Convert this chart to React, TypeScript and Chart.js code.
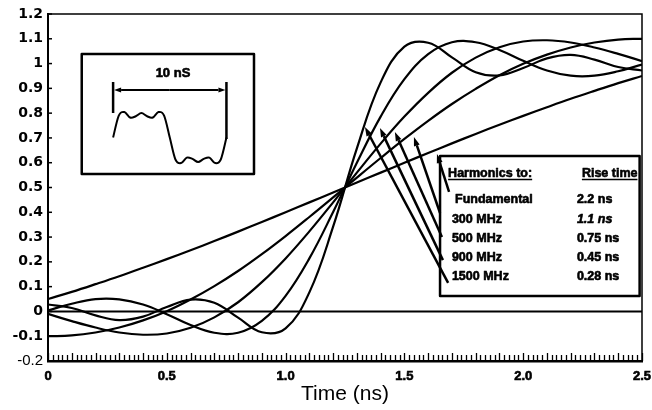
import React, { useEffect, useRef } from 'react';
import { Chart, registerables } from 'chart.js';

Chart.register(...registerables);

// ---- data ----
const TIME_NS = [0, 0.1, 0.2, 0.3, 0.4, 0.5, 0.6, 0.7, 0.8, 0.9, 1.0, 1.1, 1.2, 1.3, 1.4, 1.5, 1.6, 1.7, 1.8, 1.9, 2.0, 2.1, 2.2, 2.3, 2.4, 2.5];

const FUNDAMENTAL = [0.050, 0.079, 0.110, 0.142, 0.176, 0.211, 0.247, 0.284, 0.322, 0.361, 0.400, 0.440, 0.480, 0.520, 0.560, 0.600, 0.639, 0.678, 0.716, 0.753, 0.789, 0.824, 0.858, 0.890, 0.921, 0.950];
const MHZ_300 = [-0.100, -0.097, -0.085, -0.065, -0.036, 0.001, 0.048, 0.102, 0.163, 0.231, 0.304, 0.381, 0.460, 0.540, 0.619, 0.696, 0.769, 0.837, 0.898, 0.953, 0.999, 1.036, 1.065, 1.085, 1.097, 1.100];
const MHZ_500 = [-0.010, -0.039, -0.065, -0.085, -0.094, -0.089, -0.066, -0.024, 0.037, 0.118, 0.214, 0.323, 0.440, 0.560, 0.677, 0.786, 0.882, 0.963, 1.024, 1.066, 1.089, 1.094, 1.085, 1.065, 1.039, 1.010];
const MHZ_900 = [0.004, 0.031, 0.050, 0.049, 0.028, -0.011, -0.055, -0.086, -0.086, -0.038, 0.063, 0.214, 0.401, 0.600, 0.786, 0.937, 1.038, 1.086, 1.086, 1.055, 1.011, 0.972, 0.951, 0.951, 0.969, 0.996];
const MHZ_1500 = [0.028, 0.014, -0.016, -0.035, -0.021, 0.018, 0.048, 0.035, -0.025, -0.084, -0.068, 0.077, 0.342, 0.658, 0.924, 1.068, 1.084, 1.025, 0.965, 0.952, 0.982, 1.021, 1.035, 1.016, 0.986, 0.972];

const SERIES = [FUNDAMENTAL, MHZ_300, MHZ_500, MHZ_900, MHZ_1500];

const TABLE_HARMONICS = ['Fundamental', '300 MHz', '500 MHz', '900 MHz', '1500 MHz'];
const TABLE_RISE_TIME = ['2.2 ns', '1.1 ns', '0.75 ns', '0.45 ns', '0.28 ns'];

// arrows: from table rows to the curves (time ns, level)
const ARROW_TIP_T = [1.637, 1.540, 1.460, 1.397, 1.334];
const ARROW_TIP_V = [0.635, 0.704, 0.724, 0.740, 0.744];
const ARROW_TAIL_T = [1.688, 1.650, 1.658, 1.662, 1.684];
const ARROW_TAIL_V = [0.482, 0.397, 0.300, 0.207, 0.115];

// inset: one 10 ns period of the 500 MHz waveform
const INSET_TIME = [0, 0.5, 1, 1.5, 2, 2.5, 3, 3.5, 4, 4.5, 5, 5.5, 6, 6.5, 7, 7.5, 8, 8.5, 9, 9.5, 10];
const INSET_LEVEL = [0.5, 0.996, 1.076, 0.953, 0.981, 1.052, 0.981, 0.953, 1.076, 0.996, 0.5, 0.004, -0.076, 0.047, 0.019, -0.052, 0.019, 0.047, -0.076, 0.004, 0.5];

const X_TICK_STEP = 0.5;
const Y_TICK_STEP = 0.1;

const WIDE_FONT = '"DejaVu Sans", sans-serif';
const TEXT_FONT = '"Liberation Sans", Arial, sans-serif';

function drawArrow(ctx, x1, y1, x2, y2, len, half, width) {
  const a = Math.atan2(y2 - y1, x2 - x1);
  const bx = x2 - Math.cos(a) * len;
  const by = y2 - Math.sin(a) * len;
  ctx.lineWidth = width;
  ctx.beginPath();
  ctx.moveTo(x1, y1);
  ctx.lineTo(bx, by);
  ctx.stroke();
  ctx.beginPath();
  ctx.moveTo(x2, y2);
  ctx.lineTo(bx + Math.sin(a) * half, by - Math.cos(a) * half);
  ctx.lineTo(bx - Math.sin(a) * half, by + Math.cos(a) * half);
  ctx.closePath();
  ctx.fill();
}

function heavyText(ctx, text, x, y) {
  ctx.fillText(text, x, y);
  ctx.lineWidth = 0.6;
  ctx.strokeText(text, x, y);
}

const framePlugin = {
  id: 'frame',
  beforeDatasetsDraw(chart) {
    const { ctx, chartArea: ca, scales } = chart;
    const x = scales.x;
    const y = scales.y;
    ctx.save();
    ctx.strokeStyle = '#000';
    ctx.lineWidth = 1.5;
    ctx.beginPath();
    ctx.moveTo(ca.left, ca.top);
    ctx.lineTo(ca.right, ca.top);
    ctx.lineTo(ca.right, ca.bottom);
    ctx.stroke();
    // zero line
    ctx.lineWidth = 2;
    ctx.beginPath();
    ctx.moveTo(ca.left, y.getPixelForValue(0));
    ctx.lineTo(ca.right, y.getPixelForValue(0));
    ctx.stroke();
    // ruler ticks on bottom axis
    ctx.lineWidth = 1.3;
    for (let i = 0; i <= 125; i++) {
      const px = Math.round(x.getPixelForValue(i * 0.02)) + 0.5;
      const l = i % 5 === 0 ? 8 : 6;
      ctx.beginPath();
      ctx.moveTo(px, ca.bottom);
      ctx.lineTo(px, ca.bottom - l);
      ctx.stroke();
    }
    // inner y ticks
    ctx.lineWidth = 1.5;
    for (let i = 0; i <= 14; i++) {
      const py = y.getPixelForValue(-0.2 + i * 0.1);
      ctx.beginPath();
      ctx.moveTo(ca.left, py);
      ctx.lineTo(ca.left + 4, py);
      ctx.stroke();
    }
    ctx.restore();
  },
  afterDatasetsDraw(chart) {
    const { ctx, scales } = chart;
    const X = (t) => scales.x.getPixelForValue(t);
    const Y = (v) => scales.y.getPixelForValue(v);
    ctx.save();
    ctx.strokeStyle = '#000';
    ctx.fillStyle = '#000';
    ctx.lineJoin = 'round';
    ctx.lineCap = 'butt';

    // ---- inset ----
    const ix0 = X(0.142), ix1 = X(0.867), iy0 = Y(1.0383), iy1 = Y(0.5543);
    ctx.fillStyle = '#fff';
    ctx.fillRect(ix0, iy0, ix1 - ix0, iy1 - iy0);
    ctx.fillStyle = '#000';
    ctx.lineWidth = 2.5;
    ctx.strokeRect(ix0, iy0, ix1 - ix0, iy1 - iy0);
    const wt0 = 0.274, wt1 = 0.751, vMid = 0.7015, vPer = 0.1787;
    const pts = INSET_TIME.map((tau, i) => [X(wt0 + (tau / 10) * (wt1 - wt0)), Y(vMid + (INSET_LEVEL[i] - 0.5) * vPer)]);
    ctx.lineWidth = 2;
    ctx.beginPath();
    ctx.moveTo(pts[0][0], pts[0][1]);
    for (let i = 0; i < pts.length - 1; i++) {
      const p0 = pts[Math.max(0, i - 1)], p1 = pts[i], p2 = pts[i + 1], p3 = pts[Math.min(pts.length - 1, i + 2)];
      const c1x = p1[0] + (p2[0] - p0[0]) / 6, c1y = p1[1] + (p2[1] - p0[1]) / 6;
      const c2x = p2[0] - (p3[0] - p1[0]) / 6, c2y = p2[1] - (p3[1] - p1[1]) / 6;
      ctx.bezierCurveTo(c1x, c1y, c2x, c2y, p2[0], p2[1]);
    }
    ctx.stroke();
    // 10 ns bar
    const bl = X(wt0), br = X(wt1), by = Y(0.8931);
    ctx.lineWidth = 2.5;
    ctx.beginPath();
    ctx.moveTo(bl, Y(0.9254)); ctx.lineTo(bl, Y(0.8003));
    ctx.moveTo(br, Y(0.9254)); ctx.lineTo(br, Y(0.6954));
    ctx.stroke();
    drawArrow(ctx, (bl + br) / 2, by, bl + 1, by, 7, 2.5, 2);
    drawArrow(ctx, (bl + br) / 2, by, br - 1, by, 7, 2.5, 2);
    ctx.font = `bold 13px ${TEXT_FONT}`;
    ctx.textAlign = 'center';
    ctx.textBaseline = 'middle';
    heavyText(ctx, '10 nS', X(0.526), Y(0.9617));

    // ---- table ----
    const tx0 = X(1.650), tx1 = X(2.49), ty0 = Y(0.627), ty1 = Y(0.062);
    ctx.fillStyle = '#fff';
    ctx.fillRect(tx0 + 1, ty0 + 1, tx1 - tx0 - 2, ty1 - ty0 - 2);
    ctx.fillStyle = '#000';
    ctx.lineWidth = 2.5;
    ctx.strokeRect(tx0, ty0, tx1 - tx0, ty1 - ty0);
    ctx.textAlign = 'left';
    ctx.textBaseline = 'middle';
    ctx.font = `bold 12.5px ${TEXT_FONT}`;
    const hx1 = X(1.684), hx2 = X(2.247), hy = Y(0.558);
    heavyText(ctx, 'Harmonics to:', hx1, hy);
    heavyText(ctx, 'Rise time', hx2, hy);
    ctx.lineWidth = 1.5;
    const w1 = ctx.measureText('Harmonics to:').width;
    const w2 = ctx.measureText('Rise time').width;
    ctx.beginPath();
    ctx.moveTo(hx1, hy + 6.5); ctx.lineTo(hx1 + w1, hy + 6.5);
    ctx.moveTo(hx2, hy + 6.5); ctx.lineTo(hx2 + w2, hy + 6.5);
    ctx.stroke();
    const rowV = [0.452, 0.372, 0.295, 0.219, 0.142];
    for (let i = 0; i < TABLE_HARMONICS.length; i++) {
      ctx.font = `bold 12.5px ${TEXT_FONT}`;
      heavyText(ctx, TABLE_HARMONICS[i], X(i === 0 ? 1.713 : 1.700), Y(rowV[i]));
      ctx.font = `${i === 1 ? 'italic ' : ''}bold 12.5px ${TEXT_FONT}`;
      heavyText(ctx, TABLE_RISE_TIME[i], X(2.226), Y(rowV[i]));
    }

    // ---- arrows ----
    for (let i = 0; i < ARROW_TIP_T.length; i++) {
      drawArrow(ctx, X(ARROW_TAIL_T[i]), Y(ARROW_TAIL_V[i]), X(ARROW_TIP_T[i]), Y(ARROW_TIP_V[i]), 9, 3, 2.5);
    }
    ctx.restore();
  },
};

export default function App() {
  const ref = useRef(null);
  useEffect(() => {
    const canvas = ref.current;
    const datasets = SERIES.map((s) => ({
      data: TIME_NS.map((t, i) => ({ x: t, y: s[i] })),
      borderColor: '#000',
      borderWidth: 2.2,
      pointRadius: 0,
      tension: 0.4,
      fill: false,
    }));
    const chart = new Chart(canvas, {
      type: 'line',
      data: { datasets },
      plugins: [framePlugin],
      options: {
        animation: false,
        responsive: false,
        devicePixelRatio: 1,
        layout: { padding: { top: 14, right: 10, left: 0, bottom: 0 } },
        plugins: { legend: { display: false }, tooltip: { enabled: false }, title: { display: false } },
        scales: {
          x: {
            type: 'linear',
            min: 0,
            max: 2.5,
            afterFit: (s) => { s.height = 49; s.paddingLeft = 0; s.paddingRight = 0; },
            grid: { display: true, drawOnChartArea: false, drawTicks: false },
            border: { display: true, color: '#000', width: 2.5 },
            ticks: {
              stepSize: X_TICK_STEP,
              padding: 8,
              color: '#000',
              textStrokeColor: '#000',
              textStrokeWidth: 0.6,
              maxRotation: 0,
              font: { family: TEXT_FONT, weight: 'bold', size: 13 },
              callback: (v) => (Math.abs(v) < 1e-9 ? '0' : Number(v).toFixed(1)),
            },
            title: {
              display: true,
              text: 'Time (ns)',
              color: '#000',
              font: { family: TEXT_FONT, size: 21, weight: 'normal' },
              padding: { top: 0, bottom: 3 },
            },
          },
          y: {
            type: 'linear',
            min: -0.2,
            max: 1.2,
            afterFit: (s) => { s.width = 48; s.paddingTop = 0; s.paddingBottom = 0; },
            grid: { display: true, drawOnChartArea: false, drawTicks: false },
            border: { display: true, color: '#000', width: 2 },
            ticks: {
              stepSize: Y_TICK_STEP,
              padding: 5,
              color: '#000',
              font: (c) => (c.tick && c.tick.value < -0.15
                ? { family: TEXT_FONT, weight: 'normal', size: 15 }
                : { family: WIDE_FONT, weight: 'bold', size: 14 }),
              callback: (v) => {
                const r = Math.round(Number(v) * 10) / 10;
                return r === 0 ? '0' : String(r);
              },
            },
          },
        },
      },
    });
    return () => chart.destroy();
  }, []);
  return (
    <div style={{ position: 'fixed', left: 0, top: 0, width: 652, height: 410, background: '#fff' }}>
      <canvas ref={ref} width={652} height={410} style={{ display: 'block', width: 652, height: 410 }} />
    </div>
  );
}
